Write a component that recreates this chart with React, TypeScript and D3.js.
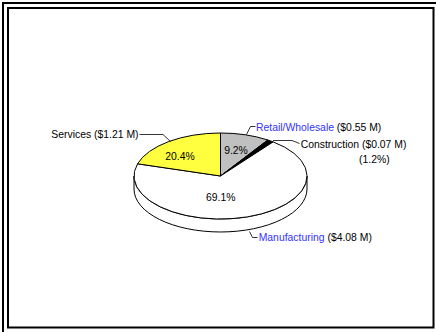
import React from "react";
import * as d3 from "d3";

const categories = ["Retail/Wholesale", "Construction", "Manufacturing", "Services"];
const amounts = ["($0.55 M)", "($0.07 M)", "($4.08 M)", "($1.21 M)"];
const percents = [9.2, 1.2, 69.1, 20.4];
const fills = ["#c0c0c0", "#000000", "#ffffff", "#ffff40"];

const W = 436;
const H = 332;
const cx = 220.5;
const cy = 176;
const rx = 86.5;
const ry = 43;
const depth = 13;
const FONT = "'Liberation Sans', Arial, sans-serif";
const FS = 10.4;

function pt(a: number, dy = 0): [number, number] {
  return [cx + rx * Math.sin(a), cy - ry * Math.cos(a) + dy];
}

export default function App() {
  const pie = d3
    .pie<number>()
    .sort(null)
    .value((d) => d)
    .startAngle(0)
    .endAngle(2 * Math.PI);
  const arcs = pie(percents);

  const topPath = (s: number, e: number) => {
    const p0 = pt(s);
    const p1 = pt(e);
    const large = e - s > Math.PI ? 1 : 0;
    return `M${cx},${cy}L${p0[0]},${p0[1]}A${rx},${ry} 0 ${large} 1 ${p1[0]},${p1[1]}Z`;
  };

  const sidePath = (s: number, e: number) => {
    const a0 = Math.max(s, Math.PI / 2);
    const a1 = Math.min(e, (3 * Math.PI) / 2);
    if (a1 <= a0) return null;
    const p0 = pt(a0);
    const p1 = pt(a1);
    const q1 = pt(a1, depth);
    const q0 = pt(a0, depth);
    return `M${p0[0]},${p0[1]}A${rx},${ry} 0 0 1 ${p1[0]},${p1[1]}L${q1[0]},${q1[1]}A${rx},${ry} 0 0 0 ${q0[0]},${q0[1]}Z`;
  };

  const lineGen = d3.line();

  return (
    <svg
      width={W}
      height={H}
      style={{ position: "absolute", left: 0, top: 0, background: "#fff" }}
      fontFamily={FONT}
      fontSize={FS}
    >
      <rect x={3} y={3} width={W + 10} height={H + 10} fill="none" stroke="#000" strokeWidth={2} />
      <rect x={8} y={8} width={425.5} height={319.5} fill="none" stroke="#000" strokeWidth={2} />

      {arcs.map((a, i) => {
        const d = sidePath(a.startAngle, a.endAngle);
        return d ? (
          <path key={"s" + i} d={d} fill={fills[i]} stroke="#000" strokeWidth={1} strokeLinejoin="round" />
        ) : null;
      })}
      {arcs.map((a, i) => (
        <path
          key={"t" + i}
          d={topPath(a.startAngle, a.endAngle)}
          fill={fills[i]}
          stroke="#000"
          strokeWidth={1}
          strokeLinejoin="round"
        />
      ))}

      {/* inner percentage labels */}
      <text x={236} y={150.5} dy="0.35em" textAnchor="middle" fill="#000">{percents[0].toFixed(1)}%</text>
      <text x={220.7} y={197.5} dy="0.35em" textAnchor="middle" fill="#000">{percents[2].toFixed(1)}%</text>
      <text x={180} y={156} dy="0.35em" textAnchor="middle" fill="#000">{percents[3].toFixed(1)}%</text>

      {/* leader lines */}
      <path d={lineGen([[255.5, 126.5], [250.5, 126.5], [246.5, 134.5]]) || ""} fill="none" stroke="#000" strokeWidth={0.8} />
      <path d={lineGen([[273, 140.5], [292, 140.5], [299.5, 143.5]]) || ""} fill="none" stroke="#000" strokeWidth={0.8} />
      <path d={lineGen([[257.5, 237.5], [252.5, 237.5], [249.5, 231.5]]) || ""} fill="none" stroke="#000" strokeWidth={0.8} />
      <path d={lineGen([[139.5, 134.5], [163, 134.5], [170.5, 141.5]]) || ""} fill="none" stroke="#000" strokeWidth={0.8} />

      {/* outer labels */}
      <text x={256} y={127.5} dy="0.35em" fill="#000">
        <tspan fill="#3333ff">{categories[0]}</tspan>
        <tspan> {amounts[0]}</tspan>
      </text>
      <text x={300.7} y={144.3} dy="0.35em" fill="#000">
        {categories[1]} {amounts[1]}
      </text>
      <text x={359} y={159.3} dy="0.35em" fill="#000">({percents[1].toFixed(1)}%)</text>
      <text x={258.7} y={237.3} dy="0.35em" fill="#000">
        <tspan fill="#3333ff">{categories[2]}</tspan>
        <tspan> {amounts[2]}</tspan>
      </text>
      <text x={138.5} y={134} dy="0.35em" textAnchor="end" fill="#000">
        {categories[3]} {amounts[3]}
      </text>
    </svg>
  );
}
